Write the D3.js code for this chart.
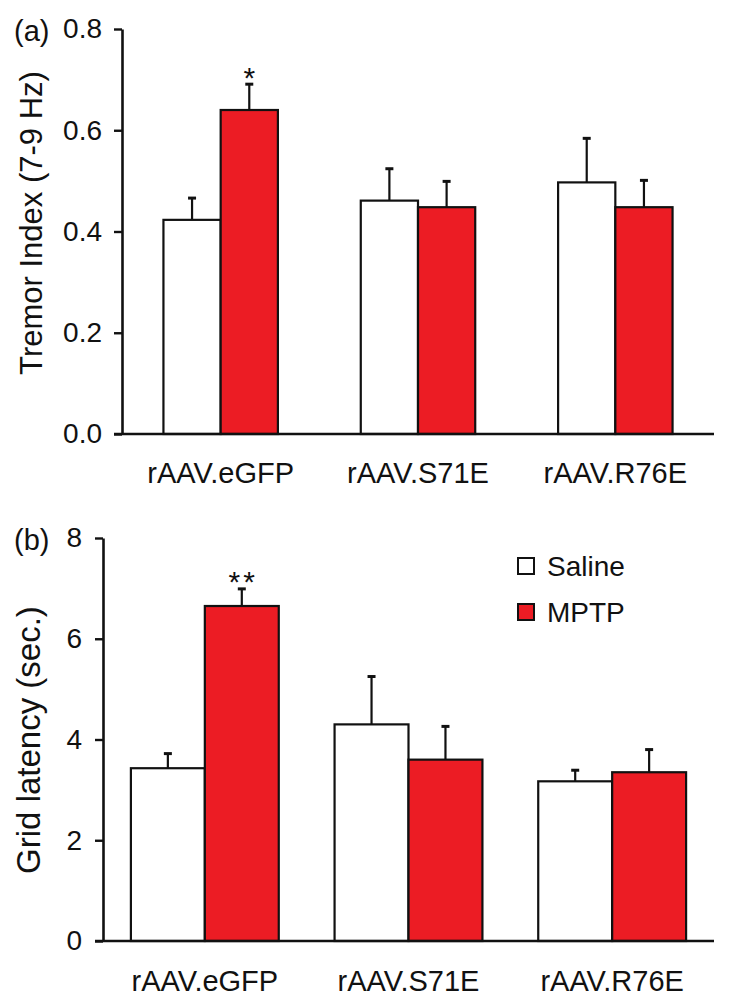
<!DOCTYPE html>
<html>
<head>
<meta charset="utf-8">
<script src="https://cdn.jsdelivr.net/npm/d3@7"></script>
<style>
  body { margin: 0; background: #fff; }
  text { font-family: "Liberation Sans", Arial, Helvetica, sans-serif; fill: #111; }
</style>
</head>
<body>
<div id="chart"></div>
<script>
// Groups and series
const groups = ["rAAV.eGFP", "rAAV.S71E", "rAAV.R76E"];
const series = ["Saline", "MPTP"];
const colors = { Saline: "#ffffff", MPTP: "#ec1c24" };

// Panel (a) tremor index, mean and SEM
const tremorSaline = [0.423, 0.461, 0.497];
const tremorSalineErr = [0.043, 0.063, 0.087];
const tremorMptp = [0.640, 0.448, 0.448];
const tremorMptpErr = [0.051, 0.051, 0.053];
const tremorTicks = [0, 0.2, 0.4, 0.6, 0.8];
const tremorStars = ["*", "", ""];

// Panel (b) grid latency, mean and SEM
const gridSaline = [3.43, 4.30, 3.17];
const gridSalineErr = [0.29, 0.95, 0.22];
const gridMptp = [6.65, 3.60, 3.35];
const gridMptpErr = [0.34, 0.66, 0.45];
const gridTicks = [0, 2, 4, 6, 8];
const gridStars = ["**", "", ""];

const W = 732, H = 1007;

const svg = d3.select("#chart")
    .append("svg")
    .attr("width", W)
    .attr("height", H);

function panel(opt) {
    const g = svg.append("g");

    const x0 = d3.scaleBand()
        .domain(groups)
        .range([opt.left, opt.right])
        .paddingInner(opt.padIn)
        .paddingOuter(opt.padOut);

    const x1 = d3.scaleBand()
        .domain(series)
        .range([0, x0.bandwidth()]);

    const y = d3.scaleLinear()
        .domain(opt.domain)
        .range([opt.bottom, opt.top]);

    const rows = [];
    groups.forEach((grp, i) => {
        rows.push({ group: grp, key: "Saline", v: opt.saline[i], e: opt.salineErr[i] });
        rows.push({ group: grp, key: "MPTP", v: opt.mptp[i], e: opt.mptpErr[i], star: opt.stars[i] });
    });

    // y axis
    const yAxis = d3.axisLeft(y)
        .tickValues(opt.ticks)
        .tickFormat(opt.fmt)
        .tickSize(8)
        .tickSizeOuter(0)
        .tickPadding(opt.tickPad);

    g.append("g")
        .attr("transform", `translate(${opt.left},0)`)
        .call(yAxis)
        .call(s => s.select(".domain").attr("stroke-width", 2.6).attr("stroke", "#111"))
        .call(s => s.selectAll(".tick line").attr("stroke-width", 2.4).attr("stroke", "#111"))
        .call(s => s.selectAll(".tick text")
            .style("font-size", "28px")
            .style("font-family", "'Liberation Sans', Arial, sans-serif")
            .attr("fill", "#111"));

    // error bars (upper only)
    const err = g.selectAll(".err")
        .data(rows)
        .enter()
        .append("g")
        .attr("class", "err");

    err.append("line")
        .attr("x1", d => x0(d.group) + x1(d.key) + x1.bandwidth() / 2)
        .attr("x2", d => x0(d.group) + x1(d.key) + x1.bandwidth() / 2)
        .attr("y1", d => y(d.v))
        .attr("y2", d => y(d.v + d.e))
        .attr("stroke", "#111")
        .attr("stroke-width", 2.2);

    err.append("line")
        .attr("x1", d => x0(d.group) + x1(d.key) + x1.bandwidth() / 2 - 4)
        .attr("x2", d => x0(d.group) + x1(d.key) + x1.bandwidth() / 2 + 4)
        .attr("y1", d => y(d.v + d.e))
        .attr("y2", d => y(d.v + d.e))
        .attr("stroke", "#111")
        .attr("stroke-width", 3);

    // bars
    g.selectAll(".bar")
        .data(rows)
        .enter()
        .append("rect")
        .attr("class", "bar")
        .attr("x", d => x0(d.group) + x1(d.key))
        .attr("y", d => y(d.v))
        .attr("width", x1.bandwidth())
        .attr("height", d => y(0) - y(d.v))
        .attr("fill", d => colors[d.key])
        .attr("stroke", "#111")
        .attr("stroke-width", 2.2);

    // significance marks
    g.selectAll(".star")
        .data(rows.filter(d => d.star))
        .enter()
        .append("text")
        .attr("class", "star")
        .attr("x", d => x0(d.group) + x1(d.key) + x1.bandwidth() / 2 + 1.5)
        .attr("y", d => y(d.v + d.e) - 7)
        .attr("dy", "0.35em")
        .attr("text-anchor", "middle")
        .style("font-size", "30px")
        .style("letter-spacing", "3px")
        .text(d => d.star);

    // x axis
    const xAxis = d3.axisBottom(x0)
        .tickSize(0)
        .tickPadding(opt.labelPad);

    g.append("g")
        .attr("transform", `translate(0,${y(0)})`)
        .call(xAxis)
        .call(s => s.select(".domain").remove())
        .call(s => s.selectAll(".tick text")
            .style("font-size", "29px")
            .style("font-family", "'Liberation Sans', Arial, sans-serif")
            .attr("fill", "#111"));

    g.append("line")
        .attr("x1", opt.left - 8)
        .attr("x2", opt.right)
        .attr("y1", y(0))
        .attr("y2", y(0))
        .attr("stroke", "#111")
        .attr("stroke-width", 2.6);

    // y title
    g.append("text")
        .attr("transform", `translate(${opt.titleX},${opt.titleY}) rotate(-90)`)
        .attr("text-anchor", "middle")
        .style("font-size", opt.titleSize + "px")
        .text(opt.title);

    // panel tag
    g.append("text")
        .attr("x", 14)
        .attr("y", opt.top + 2)
        .attr("dy", "0.35em")
        .style("font-size", "29px")
        .text(opt.tag);

    return { g, y };
}

panel({
    left: 122, right: 714, top: 29, bottom: 434,
    padIn: 0.42, padOut: 0.21,
    domain: [0, 0.8], ticks: tremorTicks, fmt: d3.format(".1f"), tickPad: 12,
    saline: tremorSaline, salineErr: tremorSalineErr,
    mptp: tremorMptp, mptpErr: tremorMptpErr, stars: tremorStars,
    labelPad: 28, title: "Tremor Index (7-9 Hz)", titleX: 42, titleY: 223, titleSize: 31, tag: "(a)"
});

const pb = panel({
    left: 103, right: 714, top: 538, bottom: 941,
    padIn: 0.274, padOut: 0.137,
    domain: [0, 8], ticks: gridTicks, fmt: d3.format("d"), tickPad: 13,
    saline: gridSaline, salineErr: gridSalineErr,
    mptp: gridMptp, mptpErr: gridMptpErr, stars: gridStars,
    labelPad: 29, title: "Grid latency (sec.)", titleX: 40, titleY: 740, titleSize: 33, tag: "(b)"
});

// legend in panel (b)
const legend = pb.g.append("g")
    .attr("transform", "translate(518,558)");

const item = legend.selectAll(".item")
    .data(series)
    .enter()
    .append("g")
    .attr("class", "item")
    .attr("transform", (d, i) => `translate(0,${i * 46})`);

item.append("rect")
    .attr("width", 16)
    .attr("height", 16)
    .attr("fill", d => colors[d])
    .attr("stroke", "#111")
    .attr("stroke-width", 2);

item.append("text")
    .attr("x", 29)
    .attr("y", 8)
    .attr("dy", "0.36em")
    .style("font-size", "28px")
    .text(d => d);
</script>
</body>
</html>
